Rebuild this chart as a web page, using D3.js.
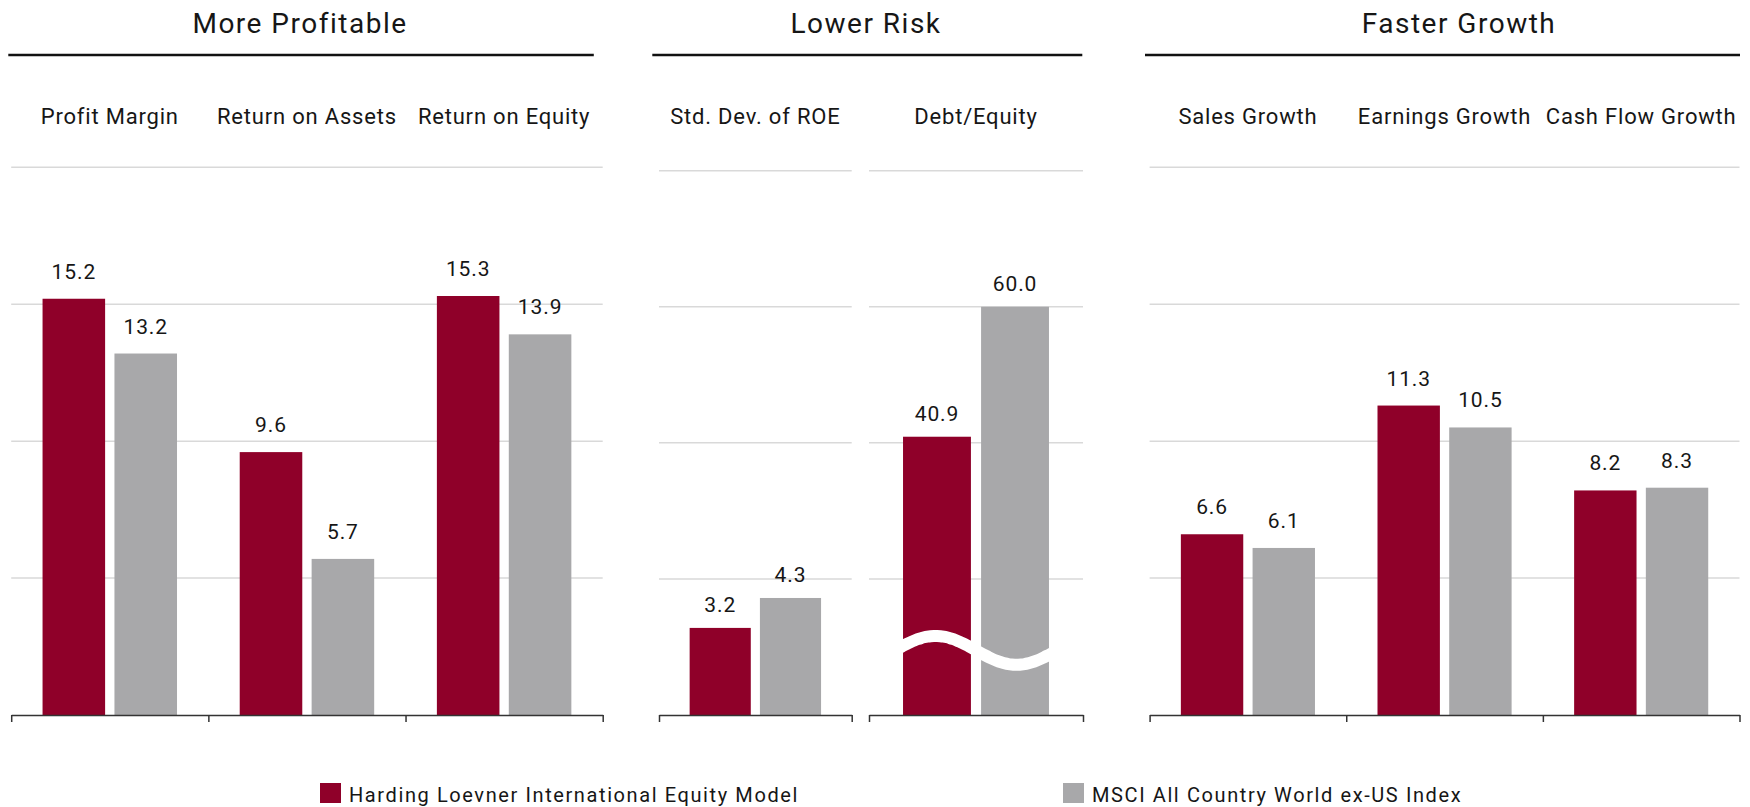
<!DOCTYPE html>
<html>
<head>
<meta charset="utf-8">
<script src="https://cdn.jsdelivr.net/npm/d3@7"></script>
<style>
html, body { margin: 0; padding: 0; background: #fff; }
svg { display: block; font-family: Roboto, "Noto Sans", sans-serif; }
</style>
</head>
<body>
<svg id="chart" width="1750" height="807"></svg>
<script>
// ---------------- DATA ----------------
const groupTitles = ["More Profitable", "Lower Risk", "Faster Growth"];
const categories = ["Profit Margin", "Return on Assets", "Return on Equity",
                    "Std. Dev. of ROE", "Debt/Equity",
                    "Sales Growth", "Earnings Growth", "Cash Flow Growth"];
const categoryAxis = [0, 0, 0, 1, 2, 3, 3, 3];           // which sub-chart each category sits in
const hardingValues = [15.2, 9.6, 15.3, 3.2, 40.9, 6.6, 11.3, 8.2];
const msciValues    = [13.2, 5.7, 13.9, 4.3, 60.0, 6.1, 10.5, 8.3];
const seriesNames = ["Harding Loevner International Equity Model", "MSCI All Country World ex-US Index"];
const axisMax = [20, 20, 80, 20];                        // value domain top of each sub-chart
const axisGridTicks = [[5, 10, 15, 20], [5, 10, 15, 20], [20, 40, 60, 80], [5, 10, 15, 20]];
const breakValue = 9.5;                                  // where the Debt/Equity axis break is drawn

// ---------------- LAYOUT / STYLE ----------------
const W = 1750, H = 807;
const baseY = 715;
const colors = ["#8f0029", "#a8a8aa"];
const textColor = "#161616";
const axesLayout = [
  { x0: 11.2,   x1: 602.7,  yTop: 167.3, labelGap: 20 },
  { x0: 659,    x1: 851.7,  yTop: 170.7, labelGap: 16 },
  { x0: 869,    x1: 1083,   yTop: 170.7, labelGap: 16 },
  { x0: 1149.6, x1: 1739.5, yTop: 167.3, labelGap: 20 }
];
const groupLayout = [
  { x0: 8.3,   x1: 593.8,  tx: 300 },
  { x0: 652.3, x1: 1082.3, tx: 866 },
  { x0: 1145,  x1: 1740,   tx: 1459 }
];

const svg = d3.select("#chart");
svg.append("rect").attr("width", W).attr("height", H).attr("fill", "#fff");

// group titles and rules
groupTitles.forEach((t, i) => {
  const g = groupLayout[i];
  svg.append("text")
    .attr("x", g.tx).attr("y", 33)
    .attr("text-anchor", "middle")
    .attr("font-size", 28).attr("letter-spacing", 1.5)
    .attr("fill", textColor)
    .text(t);
  svg.append("line")
    .attr("x1", g.x0).attr("x2", g.x1)
    .attr("y1", 55).attr("y2", 55)
    .attr("stroke", "#111").attr("stroke-width", 2.5);
});

const rows = categories.map((c, i) => ({
  name: c, axis: categoryAxis[i], values: [hardingValues[i], msciValues[i]]
}));

axesLayout.forEach((L, ai) => {
  const cats = rows.filter(r => r.axis === ai);
  const x = d3.scaleBand().domain(cats.map(r => r.name)).range([L.x0, L.x1]).padding(0);
  const y = d3.scaleLinear().domain([0, axisMax[ai]]).range([baseY, L.yTop]);
  const gw = x.bandwidth() * 0.682;
  const x1 = d3.scaleBand().domain([0, 1]).range([-gw / 2, gw / 2]).paddingInner(0.13).paddingOuter(0);

  const g = svg.append("g");

  // gridlines
  g.selectAll("line.grid").data(axisGridTicks[ai]).join("line")
    .attr("class", "grid")
    .attr("x1", L.x0).attr("x2", L.x1)
    .attr("y1", d => y(d)).attr("y2", d => y(d))
    .attr("stroke", "#d9d9d9").attr("stroke-width", 1.5);

  // category labels
  g.selectAll("text.cat").data(cats).join("text")
    .attr("class", "cat")
    .attr("x", d => x(d.name) + x.bandwidth() / 2)
    .attr("y", 124)
    .attr("text-anchor", "middle")
    .attr("font-size", 22).attr("letter-spacing", 0.8)
    .attr("fill", textColor)
    .text(d => d.name);

  // bars
  const bg = g.selectAll("g.cat").data(cats).join("g")
    .attr("transform", d => `translate(${x(d.name) + x.bandwidth() / 2},0)`);
  bg.selectAll("rect").data(d => d.values).join("rect")
    .attr("x", (v, i) => x1(i))
    .attr("width", x1.bandwidth())
    .attr("y", v => y(v))
    .attr("height", v => baseY - y(v))
    .attr("fill", (v, i) => colors[i]);
  bg.selectAll("text").data(d => d.values).join("text")
    .attr("x", (v, i) => x1(i) + x1.bandwidth() / 2)
    .attr("y", v => y(v) - L.labelGap)
    .attr("text-anchor", "middle")
    .attr("font-size", 21).attr("letter-spacing", 0.9)
    .attr("fill", textColor)
    .text(v => d3.format(".1f")(v));

  // axis break (Debt/Equity)
  if (axisMax[ai] === 80) {
    cats.forEach(d => {
      const cx = x(d.name) + x.bandwidth() / 2;
      const xl = cx + x1(0) - 8, xr = cx + x1(1) + x1.bandwidth() + 8;
      const cy = y(breakValue), amp = 14.5;
      const pts = d3.range(0, 1.0001, 0.02).map(t => [xl + t * (xr - xl), cy - amp * Math.sin(2 * Math.PI * t)]);
      g.append("path")
        .attr("d", d3.line().curve(d3.curveBasis)(pts))
        .attr("fill", "none").attr("stroke", "#fff").attr("stroke-width", 12);
    });
  }

  // bottom axis with ticks at band boundaries
  const bx = d3.scaleLinear().domain([0, cats.length]).range([L.x0, L.x1]);
  const ax = g.append("g").attr("transform", `translate(0,${baseY})`)
    .call(d3.axisBottom(bx).ticks(cats.length).tickFormat("").tickSizeInner(7).tickSizeOuter(0));
  ax.select(".domain").attr("stroke", "#333").attr("stroke-width", 1.5);
  ax.selectAll(".tick line").attr("stroke", "#333").attr("stroke-width", 1.5);
});

// legend
const legendX = [320, 1063];
seriesNames.forEach((s, i) => {
  svg.append("rect").attr("x", legendX[i]).attr("y", 783).attr("width", 21).attr("height", 20).attr("fill", colors[i]);
  svg.append("text").attr("x", legendX[i] + 29).attr("y", 802)
    .attr("font-size", 20).attr("letter-spacing", 1.6)
    .attr("fill", textColor).text(s);
});
</script>
</body>
</html>
